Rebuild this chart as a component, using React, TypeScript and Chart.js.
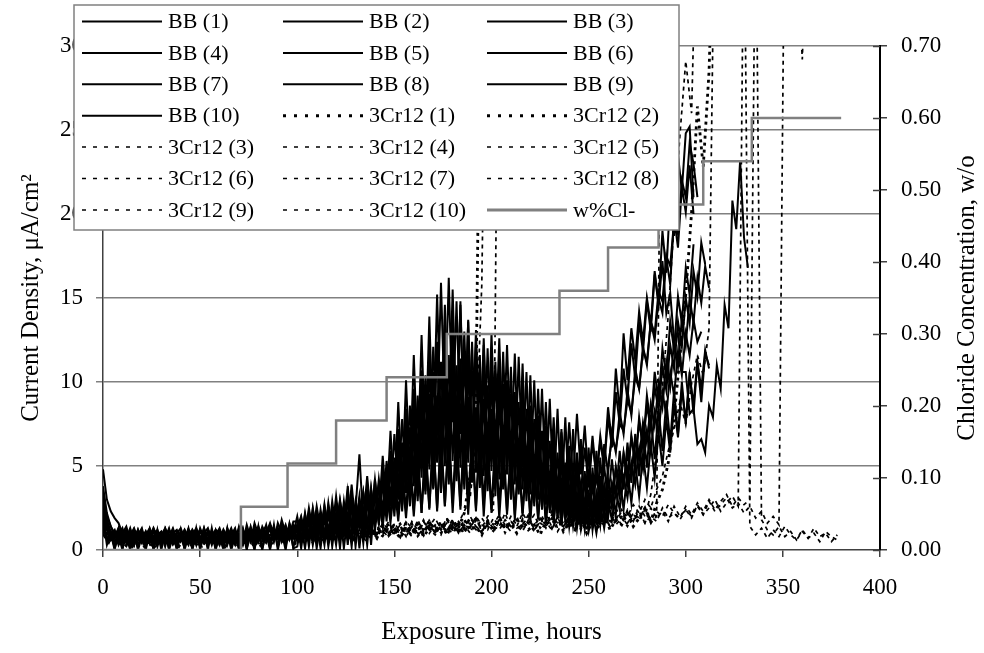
import React, { useEffect, useRef } from 'react';
import { Chart, registerables } from 'chart.js';

Chart.register(...registerables);

// ---------- DATA ----------
// BB series sampled every 2 hours, 3Cr12 series every 3 hours (values in µA/cm²)
const BB_STEP_HOURS = 2;
const CR_STEP_HOURS = 3;

const bb1 = [4.8,3.0,2.3,1.9,1.6,1.0,1.4,0.6,1.2,0.7, 1.2,0.3,0.9,1.3,0.5,1.0,0.2,1.2,0.8,0.4, 1.1,0.6,1.3,0.3,0.9,1.2,0.5,1.0,0.3,1.1, 0.7,1.2,0.4,0.9,1.3,0.2,1.0,0.6,1.4,0.5, 1.1,0.8,1.5,0.4,1.2,0.7,1.3,0.5,1.6,0.9,
  0.6,1.8,0.9,2.2,1.0,2.6,1.2,2.3,0.8,2.9, 1.1,2.7,1.4,3.1,1.3,2.5,1.6,3.4,1.5,3.0, 1.9,3.8,2.4,5.3,3.0,6.9,3.6,7.8,4.1,8.6, 4.4,9.2,5.2,10.4,6.0,12.1,7.3,15.9,8.0,16.2, 7.6,14.8,6.9,13.0,6.2,12.4,5.8,11.6,5.1,12.0,
  5.5,11.2,4.8,11.8,5.3,10.9,4.6,11.5,4.9,10.6, 4.2,10.1,3.9,9.6,3.5,9.0,3.1,8.4,2.9,7.9, 2.6,7.2,2.2,6.6,2.0,6.1,1.8,5.9,2.1,6.3, 4.6,7.0,5.8,8.2,6.9,9.5,8.0,10.8,9.6,12.1, 11.0,13.6,12.5,15.0,14.1,17.4,15.8,19.8,18.0,21.6, 20.1,22.9,20.0];
const bb2 = [3.1,2.0,1.4,0.8,1.3,0.5,1.1,0.9,0.3,1.2, 0.6,1.0,0.4,1.3,0.8,0.3,1.1,0.6,1.2,0.5, 0.9,0.3,1.2,0.7,1.0,0.4,1.3,0.6,1.1,0.8, 0.3,1.2,0.8,0.5,1.1,0.9,0.4,1.5,0.7,1.2, 0.6,1.4,0.9,1.2,0.5,1.6,1.0,1.3,0.7,1.5,
  1.2,0.5,1.9,0.7,2.1,0.6,1.7,0.9,2.4,1.0, 2.0,0.8,2.6,1.1,2.9,1.2,2.4,1.4,3.3,1.6, 3.6,1.8,4.4,2.1,5.6,2.5,6.4,3.2,7.5,3.6, 8.7,4.1,9.8,4.6,11.0,5.2,12.3,5.9,13.4,6.1, 14.0,6.6,14.6,6.3,13.7,5.9,13.1,5.4,12.2,5.0,
  11.6,4.6,10.8,4.2,10.1,3.9,9.4,3.6,8.8,3.4, 8.2,3.1,7.6,2.8,6.9,2.5,6.3,2.2,5.7,2.0, 5.2,1.8,4.8,1.6,4.4,1.5,4.9,1.9,5.5,2.3, 5.0,6.6,6.0,7.5,7.1,8.9,8.2,10.3,9.6,11.9, 11.2,13.6,12.9,15.4,14.8,17.5,16.9,19.6,18.8,22.0, 21.0,24.2,23.0,21.0];
const bb3 = [2.6,1.6,0.9,1.2,0.4,1.0,0.7,1.3,0.5,0.9, 1.3,0.4,0.8,1.1,0.2,1.0,0.7,1.3,0.4,0.9, 0.5,1.2,0.8,0.3,1.1,0.6,1.3,0.4,0.8,1.2, 1.0,0.4,1.3,0.7,0.3,1.4,0.8,1.1,0.5,1.6, 0.9,1.3,0.6,1.5,1.1,0.7,1.8,1.0,1.4,0.8,
  0.8,1.9,0.7,2.3,1.1,1.8,0.9,2.6,1.2,2.2, 1.0,2.9,1.3,3.5,1.5,2.4,5.7,1.6,3.7,1.4, 4.2,1.9,4.7,2.6,5.9,3.1,7.2,3.7,8.4,4.2, 9.6,4.8,10.7,5.4,11.9,6.0,12.4,5.5,11.8,5.9, 12.1,5.6,11.4,5.2,10.9,4.8,11.6,5.0,10.8,4.6,
  10.2,4.3,10.9,4.5,9.6,4.1,9.0,3.9,9.5,3.7, 8.6,3.5,8.0,3.3,7.4,3.1,6.9,3.4,7.2,3.8, 7.6,4.2,8.1,4.5,7.4,4.0,6.8,4.3,6.5,4.9, 7.9,6.1,9.4,7.5,10.8,8.9,12.3,10.2,13.6,11.8, 14.8,13.0,16.4,14.6,17.2,14.1,15.3,12.4,12.9,10.6, 10.6,8.1,8.4,6.3,6.6,5.8,8.6,7.9,11.0,9.6, 14.6,13.2,20.8,19.1,23.2,18.6,16.8];
const bb4 = [2.2,0.6,1.1,0.1,0.9,0.0,1.2,0.2,1.0,0.0, 0.8,0.1,1.2,0.0,0.9,0.2,1.1,0.0,0.8,0.1, 1.2,0.0,0.9,0.1,1.3,0.0,1.0,0.2,1.1,0.0, 0.9,0.1,1.2,0.0,0.8,0.1,1.1,0.0,1.3,0.1, 1.0,0.0,1.2,0.1,1.5,0.0,1.1,0.2,1.3,0.1,
  1.5,0.1,1.8,0.2,2.0,0.1,1.6,0.3,2.3,0.2, 2.1,0.1,2.5,0.3,2.8,0.2,2.2,0.4,3.1,0.3, 3.4,1.6,4.0,2.0,4.8,2.4,5.6,2.7,6.3,3.0, 7.1,3.2,7.9,3.5,8.6,3.8,8.0,3.4,8.8,3.9, 9.4,4.1,8.7,3.6,9.1,4.0,8.5,3.7,9.0,3.5,
  8.4,3.2,8.9,3.6,8.1,3.0,7.8,3.3,7.4,2.9, 7.0,2.6,6.6,2.4,6.2,2.2,5.8,2.0,5.4,1.9, 5.0,1.7,4.6,1.6,4.3,1.5,4.0,1.7,4.4,2.0, 4.1,2.9,4.9,3.6,5.8,4.4,6.7,5.3,7.6,6.2, 8.6,7.2,9.7,8.3,10.9,9.5,12.2,10.8,13.6,12.1, 15.0,13.5,16.6,15.1,18.3,17.0];
const bb5 = [3.4,1.8,1.1,0.7,1.3,0.6,1.0,0.4,1.2,0.8, 0.4,1.1,0.7,1.2,0.5,0.9,1.3,0.3,1.0,1.2, 0.7,1.0,0.4,1.2,0.8,0.3,1.0,1.3,0.6,0.9, 1.3,0.6,1.0,0.5,1.2,0.7,1.3,0.3,1.1,0.8, 1.4,0.7,1.1,0.5,1.3,0.9,1.6,0.6,1.2,1.0,
  2.0,0.7,1.6,0.5,2.4,0.9,1.9,0.6,2.6,1.0, 2.2,0.8,2.9,1.1,2.5,1.3,3.2,1.0,2.8,1.4, 3.6,1.5,4.1,1.7,4.9,2.0,5.6,2.3,6.2,2.6, 7.0,2.9,7.8,3.3,8.5,3.6,9.2,4.0,9.9,4.3, 10.5,4.7,11.0,5.0,11.6,5.3,12.1,5.6,12.6,5.8,
  12.9,6.0,12.6,5.7,12.2,5.4,11.7,5.0,11.1,4.6, 10.4,4.2,9.6,3.8,8.8,3.4,7.9,3.0,7.0,2.6, 6.2,2.3,5.4,2.0,4.7,1.8,4.1,1.6,3.8,1.9, 4.2,2.5,4.9,3.2,5.7,4.0,6.8,5.0,7.9,6.1, 9.2,7.4,10.6,8.8,12.0,10.3,13.6,11.9,15.1,13.5, 16.8,15.2,18.2];
const bb6 = [2.8,1.5,1.0,0.5,0.9,1.3,0.4,1.0,0.7,1.2, 0.5,0.9,1.3,0.6,1.1,0.4,0.8,1.2,0.5,1.0, 1.3,0.7,0.3,1.0,1.2,0.6,0.9,0.4,1.2,0.7, 1.1,0.5,0.8,1.3,0.6,1.0,0.3,1.2,0.9,1.3, 0.5,1.2,0.8,1.4,0.6,1.1,0.9,1.5,0.7,1.3,
  0.5,1.7,0.8,2.1,0.6,1.9,1.0,2.4,0.7,2.0, 1.1,2.6,0.9,2.9,1.3,2.3,1.5,3.3,1.2,3.7, 1.8,4.2,2.2,4.9,2.6,5.5,3.0,6.4,3.4,7.3, 3.8,8.4,4.3,9.5,4.8,10.6,5.2,11.2,5.0,11.6, 5.3,11.0,4.9,11.4,5.2,10.7,4.6,10.3,4.4,9.8,
  4.7,10.5,4.2,9.9,4.5,9.3,3.9,8.8,3.6,8.4, 3.3,7.8,3.0,7.1,2.7,6.5,2.4,5.8,2.1,5.2, 1.8,4.6,1.5,4.0,1.3,3.6,1.2,3.3,1.5,3.9, 2.5,4.0,3.2,4.8,3.9,5.7,4.6,6.6,5.4,7.6, 6.4,8.7,7.4,9.9,8.5,11.2,9.7,12.5,10.9,13.8, 12.2,15.0,13.5,16.2,14.7,16.9,15.6];
const bb7 = [2.4,1.3,0.8,1.1,0.3,0.9,1.2,0.6,0.3,1.1, 0.9,0.5,1.2,0.3,0.9,1.1,0.5,0.8,1.3,0.6, 0.8,1.2,0.5,1.0,0.3,1.3,0.7,1.0,0.4,1.2, 0.6,1.1,0.3,1.0,0.7,1.3,0.5,0.9,1.2,0.4, 1.3,0.7,1.0,1.6,0.8,1.3,0.5,1.2,0.9,1.7,
  1.7,0.6,2.1,0.8,2.5,1.0,1.9,0.7,2.8,1.1, 3.2,1.2,2.6,1.4,3.9,1.5,3.0,1.7,4.4,1.9, 3.7,2.0,4.9,2.3,5.6,2.7,6.5,3.0,7.4,3.4, 8.3,3.8,8.9,4.0,9.3,3.7,8.7,4.1,9.6,4.4, 9.9,4.7,10.4,5.0,11.0,5.2,11.4,5.4,10.8,5.1,
  10.5,4.8,10.0,4.5,9.7,4.2,9.1,3.9,8.6,3.6, 7.8,3.2,6.9,2.8,6.0,2.4,5.1,2.0,4.2,1.7, 3.4,1.4,2.9,1.2,2.5,1.1,2.3,1.0,2.6,1.3, 2.9,1.8,3.5,2.4,4.3,3.1,5.2,3.9,6.1,4.8, 7.1,5.8,8.2,6.9,9.4,8.0,10.6,9.2,11.8,10.4, 12.9,11.6,13.7,12.4,13.0];
const bb8 = [1.9,0.3,1.0,0.0,1.2,0.1,0.8,0.0,1.1,0.2, 0.9,0.0,1.1,0.1,1.2,0.0,1.0,0.1,1.1,0.0, 0.9,0.1,1.2,0.0,1.0,0.2,1.1,0.0,1.3,0.1, 0.9,0.0,1.3,0.1,1.1,0.0,1.2,0.1,0.9,0.0, 1.4,0.1,1.0,0.0,1.3,0.2,1.1,0.0,1.5,0.1,
  0.2,1.5,0.1,1.8,0.3,1.6,0.1,2.0,0.2,1.7, 0.3,2.3,0.1,2.1,0.2,2.6,0.1,2.4,0.3,2.8, 1.2,3.0,1.4,3.5,1.6,3.9,1.7,4.4,1.9,4.8, 2.0,5.3,2.2,5.9,2.4,6.5,2.5,7.0,2.6,7.4, 2.8,7.3,2.6,7.7,2.9,7.0,2.5,7.5,2.7,6.8,
  2.4,6.6,2.6,6.9,2.3,6.2,2.1,6.0,2.2,5.7, 2.0,5.3,1.8,4.9,1.7,4.5,1.6,4.1,1.5,3.8, 1.4,3.5,1.3,3.2,1.2,3.0,1.4,3.3,1.6,3.6, 1.9,3.9,2.1,4.3,2.4,4.7,2.8,5.2,3.2,5.7, 3.7,6.3,4.3,7.0,5.0,7.8,5.8,8.7,6.7,9.5, 7.7,10.4,8.7,11.2,9.6,11.9,10.8];
const bb9 = [3.8,2.2,1.4,1.0,0.6,1.2,0.5,0.9,1.3,0.6, 1.0,0.3,1.2,0.7,1.0,0.4,1.3,0.8,0.5,1.1, 0.6,1.1,0.4,0.9,1.3,0.7,0.4,1.2,0.9,0.3, 1.2,0.8,0.4,1.1,0.9,0.5,1.2,0.8,1.1,0.7, 1.2,1.0,0.6,1.4,0.8,1.3,1.0,0.6,1.4,1.1,
  1.5,0.6,2.2,0.9,1.8,0.7,2.4,1.0,2.0,1.2, 2.8,1.0,2.3,1.4,3.4,1.2,2.9,1.6,3.6,1.8, 4.2,2.1,5.6,2.6,7.1,3.2,8.8,3.8,10.1,4.5, 11.6,5.1,12.8,5.8,13.9,6.5,15.2,7.0,14.6,7.4, 15.5,7.1,14.8,6.6,13.6,6.2,12.3,5.8,11.1,5.3,
  10.2,4.9,9.4,4.5,8.8,4.2,8.2,3.9,7.7,3.7, 7.4,3.5,7.0,3.3,6.6,3.1,6.3,3.0,6.0,2.9, 5.4,3.1,5.8,3.4,6.1,3.8,6.4,4.3,6.8,5.0, 8.5,6.4,10.8,8.2,12.9,10.1,13.2,11.3,14.2,12.4, 15.0,13.4,16.6,14.7,19.0,16.5,21.0,18.7,23.5,21.4, 24.8,25.2,21.0];
const bb10 = [2.0,1.2,0.7,1.1,0.4,0.9,0.6,1.2,0.3,1.0, 0.7,1.1,0.4,0.8,1.2,0.6,0.9,0.3,1.0,0.7, 1.0,0.5,0.9,1.2,0.4,1.1,0.7,0.3,1.0,0.8, 0.5,1.0,0.7,1.2,0.4,0.8,1.1,0.6,1.0,1.3, 0.7,1.1,1.4,0.6,1.0,1.2,0.8,1.4,0.6,1.1,
  1.3,2.0,0.9,2.5,1.1,2.2,0.8,2.7,1.0,2.4, 1.2,3.0,1.4,3.8,1.1,2.9,1.5,3.4,1.3,3.6, 1.6,3.9,1.8,4.3,1.9,4.8,2.1,5.2,2.3,5.7, 2.4,6.1,2.2,6.6,2.5,7.0,2.3,6.4,2.6,6.8, 2.2,6.3,2.4,6.9,2.1,6.0,2.3,6.5,2.0,5.8,
  2.2,6.2,1.9,5.6,2.1,5.9,1.8,5.3,2.0,5.5, 1.7,5.0,1.9,4.6,1.6,4.3,1.8,4.0,1.5,3.8, 1.7,3.6,1.9,3.9,2.1,4.3,2.3,4.6,2.6,5.0, 2.9,5.4,3.2,5.9,3.6,6.4,4.0,6.9,4.4,7.4, 4.9,7.9,5.4,8.4,5.9,8.9,6.4,9.5,6.9,10.0, 7.5,10.6,8.1,11.2,8.8,11.7,11.0];

const cr1 = [1.8,0.9,0.5,0.8,0.3,0.7,0.4,0.9,0.2,0.6, 0.8,0.3,0.7,0.5,0.9,0.2,0.6,0.8,0.4,0.7, 0.3,0.8,0.5,0.9,0.4,0.7,0.2,0.8,0.6,1.0, 0.4,0.9,0.6,1.1,0.5,0.8,1.2,0.6,1.0,0.7, 1.3,0.8,1.1,0.6,1.4,0.9,1.2,0.7,1.5,1.0, 1.3,0.8,1.6,1.1,1.4,0.9,1.7,1.2,1.5,1.0, 1.8,1.3,2.2,4.5,9.0,40];
const cr2 = [1.4,0.7,0.3,0.9,0.5,0.2,0.8,0.4,0.7,0.3, 0.6,0.9,0.4,0.2,0.8,0.5,0.9,0.3,0.6,0.8, 0.5,0.2,0.7,0.9,0.4,0.6,1.0,0.3,0.8,0.5, 0.9,0.6,1.1,0.4,0.8,1.0,0.5,1.2,0.7,0.9, 0.6,1.2,0.8,1.4,0.7,1.0,1.3,0.8,1.5,0.9, 1.2,0.7,1.4,1.0,1.6,0.8,1.3,1.1,1.7,0.9, 1.5,1.0,1.8,1.2,1.4,0.9,1.7,1.1,1.9,1.3, 1.6,1.0,1.8,1.2,1.5,0.9,1.7,1.3,2.0,1.1, 1.6,1.2,1.9,1.0,1.7,1.4,2.1,1.2,1.8,1.5, 2.2,1.4,1.9,2.5,1.7,2.8,3.6,5.2,7.9,11.5, 15.2,20.1,26.4,22.8,28.5,40];
const cr3 = [1.2,0.6,0.9,0.3,0.7,1.0,0.4,0.8,0.5,0.9, 0.4,0.7,1.0,0.3,0.6,0.9,0.5,0.2,0.8,0.6, 0.9,0.4,0.7,0.3,1.0,0.6,0.8,0.4,0.9,0.7, 1.1,0.5,0.8,1.2,0.6,0.9,0.4,1.1,0.8,1.3, 0.7,1.0,1.4,0.8,1.2,0.6,1.3,0.9,1.1,1.5, 0.9,1.3,1.0,1.6,0.8,1.2,1.5,1.0,1.4,1.1, 1.7,1.2,1.5,1.0,1.8,1.3,2.0,2.4,40];
const cr4 = [2.0,0.8,0.4,1.0,0.6,0.3,0.9,0.5,1.1,0.4, 0.7,1.0,0.3,0.8,0.5,1.1,0.6,0.9,0.3,0.7, 1.0,0.5,0.8,0.4,0.6,1.1,0.7,0.3,0.9,0.6, 0.8,1.2,0.5,0.9,1.3,0.7,1.0,0.5,1.2,0.8, 1.4,0.9,1.1,0.6,1.5,1.0,0.7,1.3,0.9,1.6, 1.1,1.4,0.8,1.7,1.2,1.0,1.6,1.3,0.9,1.8, 1.3,1.6,2.3,3.1,6.5,15.8,40];
const cr5 = [1.6,1.0,0.4,0.7,1.1,0.5,0.3,0.9,0.6,1.0, 0.3,0.8,0.5,1.0,0.7,0.4,0.9,1.1,0.5,0.8, 0.6,1.0,0.3,0.8,0.5,0.9,0.4,1.1,0.7,0.4, 1.0,0.7,1.2,0.5,0.9,0.6,1.3,0.8,0.5,1.1, 0.8,1.3,0.6,1.0,1.5,0.8,1.2,0.7,1.4,1.0, 1.6,1.1,0.8,1.4,1.0,1.7,1.2,0.9,1.5,1.1, 1.8,1.3,1.0,1.6,1.2,1.9,1.4,1.1,1.7,1.3, 2.0,1.5,1.1,1.8,1.3,1.6,2.1,1.4,1.8,1.2, 1.9,1.5,2.2,1.6,1.3,2.0,1.7,2.3,1.5,1.9, 1.4,2.1,1.8,2.4,1.6,2.0,40];
const cr6 = [1.3,0.5,0.8,0.4,1.0,0.6,0.9,0.3,0.7,1.1, 0.5,0.9,0.6,0.3,1.0,0.7,0.4,0.8,1.1,0.5, 0.8,0.4,1.0,0.6,0.9,0.3,0.7,1.0,0.5,0.8, 0.5,1.1,0.7,1.0,0.6,1.2,0.8,1.4,0.7,1.0, 1.2,0.7,1.5,0.9,1.1,1.6,0.8,1.3,1.0,1.7, 1.0,1.5,1.2,0.8,1.8,1.1,1.4,1.9,1.2,1.6, 1.1,1.7,1.3,2.0,1.4,1.0,1.8,1.5,2.1,1.2, 1.7,1.4,2.2,1.6,1.1,1.9,1.5,2.3,1.3,1.8, 1.5,2.1,1.2,1.9,2.4,1.6,2.0,1.4,2.5,1.8, 2.2,1.7,2.6,2.0,3.3,5.8,9.6,14.0,19.5,24.7, 29.1,26.0,40];
const cr7 = [0.9,0.4,1.1,0.6,0.2,0.8,0.5,1.0,0.3,0.7, 1.0,0.6,0.3,0.9,0.5,0.8,0.2,0.7,1.0,0.4, 0.7,1.1,0.5,0.8,0.3,1.0,0.6,0.9,0.4,1.2, 0.6,0.9,1.3,0.5,1.0,0.7,1.1,0.6,1.3,0.9, 0.7,1.4,1.0,1.2,0.8,1.5,1.1,0.9,1.6,1.2, 1.4,0.9,1.7,1.3,1.1,1.8,1.0,1.5,1.2,1.9, 1.4,1.1,1.8,1.3,2.0,1.5,1.2,1.9,1.4,2.2, 1.3,1.8,1.5,2.1,1.2,1.7,2.3,1.6,1.9,1.4, 2.0,1.6,2.4,1.8,1.5,2.2,1.9,2.6,1.7,2.3, 2.0,2.7,2.2,3.0,2.5,3.6,4.4,5.9,7.2,8.8, 7.5,9.9,11.6,10.4,13.2,40];
const cr8 = [1.1,0.7,0.3,0.9,0.6,1.0,0.4,0.7,1.1,0.5, 0.8,0.4,1.0,0.6,0.3,0.9,0.7,0.4,1.0,0.6, 0.3,0.9,0.6,1.1,0.4,0.7,1.0,0.5,0.8,0.3, 0.9,0.6,1.1,0.8,0.4,1.2,0.7,1.0,0.6,1.3, 0.9,1.1,0.6,1.4,1.0,0.8,1.3,0.9,1.5,0.8, 1.2,1.6,1.0,1.3,0.8,1.7,1.2,1.4,1.0,1.8, 1.2,1.5,1.0,1.9,1.4,1.1,1.7,1.3,2.0,1.5, 1.1,1.8,1.4,1.6,2.1,1.3,1.7,1.2,2.0,1.5, 1.8,1.3,2.2,1.6,1.9,1.4,2.3,1.7,2.0,1.5, 2.4,1.8,2.1,1.6,2.5,1.9,2.3,1.7,2.6,2.0, 2.4,1.9,2.7,2.1,2.5,3.0,2.3,2.8,3.2,2.6, 40,1.4,0.9,1.3,0.7,1.2,0.8,1.4,0.9,0.6, 1.1,0.7,1.3,0.8,1.0,0.5,0.9];
const cr9 = [1.5,0.8,0.5,1.1,0.3,0.8,0.6,0.2,0.9,0.5, 1.0,0.5,0.8,0.3,1.1,0.6,0.9,0.5,0.7,0.3, 1.0,0.7,0.4,0.9,0.6,1.0,0.3,0.8,0.5,1.1, 0.7,0.5,1.0,0.8,1.2,0.6,0.9,1.3,0.7,1.0, 1.3,0.8,1.0,1.5,0.7,1.2,0.9,1.4,1.1,0.8, 1.5,1.1,1.3,0.9,1.6,1.2,1.8,1.0,1.4,1.2, 1.7,1.0,1.5,1.3,1.9,1.1,1.6,1.4,1.2,1.8, 1.4,2.0,1.2,1.7,1.5,1.9,1.3,2.1,1.6,1.4, 2.0,1.5,1.8,1.3,2.2,1.7,1.5,2.1,1.8,2.4, 1.6,2.2,1.9,2.5,1.8,2.3,2.0,2.7,2.2,1.9, 2.6,2.1,2.8,2.3,3.0,2.4,2.9,3.3,2.6,3.1, 2.7,3.0,40,1.8,1.2,0.9,1.4,0.8,1.1,0.6, 1.2,0.7,1.0,0.5,1.1,0.8,0.6];
const cr10 = [1.0,0.5,0.8,0.3,0.9,0.6,1.1,0.4,0.7,0.2, 0.6,1.0,0.4,0.8,0.5,0.3,1.0,0.6,0.9,0.4, 0.8,0.5,1.1,0.3,0.7,0.9,0.4,0.6,1.0,0.7, 1.0,0.4,0.8,1.1,0.6,0.9,0.5,1.2,0.8,0.6, 1.1,0.7,1.3,0.9,1.0,0.6,1.4,1.0,0.8,1.3, 0.9,1.4,1.1,1.6,0.9,1.2,1.5,1.0,1.7,1.3, 1.0,1.6,1.2,1.4,1.9,1.1,1.5,1.3,1.8,1.0, 1.7,1.3,1.5,2.0,1.2,1.6,1.4,1.9,1.1,1.7, 1.4,2.1,1.6,1.3,1.9,1.5,2.2,1.4,1.7,2.0, 1.5,1.8,2.3,1.6,2.0,1.7,2.5,1.9,2.2,1.8, 2.4,2.0,2.6,2.1,2.9,2.3,2.7,3.1,2.5,2.8, 2.2,2.6,1.9,2.3,1.6,2.0,1.5,40,38,36, 29.2,40];

// Chloride concentration (w/o), held from each time until the next
const chlorideHours = [0, 71, 95, 120, 146, 177, 235, 260, 286, 309, 334, 380];
const chlorideLevels = [0, 0.06, 0.12, 0.18, 0.24, 0.30, 0.36, 0.42, 0.48, 0.54, 0.60, 0.60];

const bbLabels = ['BB (1)', 'BB (2)', 'BB (3)', 'BB (4)', 'BB (5)', 'BB (6)', 'BB (7)', 'BB (8)', 'BB (9)', 'BB (10)'];
const crLabels = ['3Cr12 (1)', '3Cr12 (2)', '3Cr12 (3)', '3Cr12 (4)', '3Cr12 (5)', '3Cr12 (6)', '3Cr12 (7)', '3Cr12 (8)', '3Cr12 (9)', '3Cr12 (10)'];
const chlorideLabel = 'w%Cl-';

const xTitle = 'Exposure Time, hours';
const yTitle = 'Current Density, \u03bcA/cm\u00b2';
const y1Title = 'Chloride Concentration, w/o';

// ---------- STYLE ----------
const FONT = '"Liberation Serif", "Times New Roman", serif';
const GRID_GRAY = '#808080';

const bbSeries = [bb1, bb2, bb3, bb4, bb5, bb6, bb7, bb8, bb9, bb10];
const crSeries = [cr1, cr2, cr3, cr4, cr5, cr6, cr7, cr8, cr9, cr10];

const toPoints = (vals: number[], step: number) => vals.map((v, i) => ({ x: i * step, y: v }));

const gridLegendPlugin = {
  id: 'gridLegend',
  afterDraw(chart: any) {
    const { ctx } = chart;
    const y1 = chart.scales.y1;
    ctx.save();
    ctx.strokeStyle = '#404040';
    ctx.lineWidth = 1.5;
    y1.ticks.forEach((t: any) => {
      const py = Math.round(y1.getPixelForValue(t.value)) + 0.5;
      ctx.beginPath();
      ctx.moveTo(y1.left - 7, py);
      ctx.lineTo(y1.left, py);
      ctx.stroke();
    });
    ctx.fillStyle = '#000';
    ctx.font = `25px ${FONT}`;
    ctx.textAlign = 'center';
    ctx.textBaseline = 'middle';
    ctx.translate(967, (chart.chartArea.top + chart.chartArea.bottom) / 2);
    ctx.rotate(-Math.PI / 2);
    ctx.fillText(y1Title, 0, 0);
    ctx.restore();

    ctx.save();
    const bx = 74, by = 5, bw = 605, bh = 225;
    ctx.fillStyle = '#fff';
    ctx.fillRect(bx, by, bw, bh);
    ctx.strokeStyle = GRID_GRAY;
    ctx.lineWidth = 1.5;
    ctx.strokeRect(bx, by, bw, bh);
    const colX = [82, 283, 487];
    chart.data.datasets.forEach((ds: any, k: number) => {
      const row = Math.floor(k / 3);
      const col = k % 3;
      const y = 21.5 + row * 31.4;
      const x0 = colX[col];
      ctx.strokeStyle = ds.borderColor;
      ctx.lineWidth = ds.legendWidth;
      ctx.setLineDash(ds.legendDash || []);
      ctx.beginPath();
      ctx.moveTo(x0, y);
      ctx.lineTo(x0 + 80, y);
      ctx.stroke();
      ctx.setLineDash([]);
      ctx.fillStyle = '#000';
      ctx.font = `22px ${FONT}`;
      ctx.textAlign = 'left';
      ctx.textBaseline = 'middle';
      ctx.fillText(ds.label, x0 + 86, y + 1);
    });
    ctx.restore();
  },
};

export default function App() {
  const canvasRef = useRef<HTMLCanvasElement | null>(null);

  useEffect(() => {
    const canvas = canvasRef.current;
    if (!canvas) return;
    Chart.defaults.font.family = FONT;
    Chart.defaults.color = '#000';

    const datasets: any[] = [];
    bbSeries.forEach((vals, i) => {
      datasets.push({
        label: bbLabels[i],
        data: toPoints(vals, BB_STEP_HOURS),
        borderColor: '#000',
        borderWidth: 2,
        pointRadius: 0,
        yAxisID: 'y',
        legendWidth: 2,
        legendDash: [],
      });
    });
    crSeries.forEach((vals, i) => {
      const heavy = i < 2;
      datasets.push({
        label: crLabels[i],
        data: toPoints(vals, CR_STEP_HOURS),
        borderColor: '#000',
        borderWidth: heavy ? 2.8 : 1.7,
        borderDash: heavy ? [3, 4] : [4, 4],
        pointRadius: 0,
        yAxisID: 'y',
        legendWidth: heavy ? 3 : 1.5,
        legendDash: heavy ? [3, 8] : [4, 7],
      });
    });
    datasets.push({
      label: chlorideLabel,
      data: chlorideHours.map((h, i) => ({ x: h, y: chlorideLevels[i] })),
      borderColor: GRID_GRAY,
      borderWidth: 2.5,
      stepped: 'before',
      pointRadius: 0,
      yAxisID: 'y1',
      order: -1,
      legendWidth: 3,
      legendDash: [],
    });

    const chart = new Chart(canvas, {
      type: 'line',
      data: { datasets },
      options: {
        animation: false,
        responsive: false,
        events: [],
        layout: { padding: { top: 46, left: 0, right: 0, bottom: 0 } },
        plugins: { legend: { display: false }, tooltip: { enabled: false } },
        scales: {
          x: {
            type: 'linear',
            min: 0,
            max: 400,
            ticks: { stepSize: 50, font: { size: 23 }, color: '#000', padding: 17, maxRotation: 0 },
            grid: { drawOnChartArea: false, tickLength: 7, color: '#404040', lineWidth: 1.5 },
            border: { color: '#404040', width: 1.5 },
            title: { display: true, text: xTitle, font: { size: 25 }, color: '#000', padding: { top: 0, bottom: 6 } },
            afterFit: (s: any) => { s.height = 103; },
          },
          y: {
            position: 'left',
            min: 0,
            max: 30,
            ticks: { stepSize: 5, font: { size: 23 }, color: '#000', padding: 13 },
            grid: {
              color: (c: any) => (c.tick && c.tick.value === 0 ? 'rgba(0,0,0,0)' : GRID_GRAY),
              tickColor: GRID_GRAY,
              lineWidth: 1.5,
              tickLength: 7,
            },
            border: { color: '#404040', width: 1.5 },
            title: { display: true, text: yTitle, font: { size: 25 }, color: '#000', padding: { top: 16, bottom: 0 } },
            afterFit: (s: any) => { s.width = 103; },
          },
          y1: {
            position: 'right',
            min: 0,
            max: 0.7,
            ticks: { stepSize: 0.1, font: { size: 23 }, color: '#000', padding: 14, callback: (v: any) => Number(v).toFixed(2) },
            grid: { drawOnChartArea: false, tickLength: 7, color: '#404040', lineWidth: 1.5 },
            border: { color: '#000', width: 2 },
            afterFit: (s: any) => { s.width = 104; },
          },
        },
      } as any,
      plugins: [gridLegendPlugin],
    });
    return () => chart.destroy();
  }, []);

  return (
    <div style={{ position: 'absolute', left: 0, top: 0, width: 984, height: 653, background: '#fff' }}>
      <canvas ref={canvasRef} width={984} height={653} />
    </div>
  );
}
